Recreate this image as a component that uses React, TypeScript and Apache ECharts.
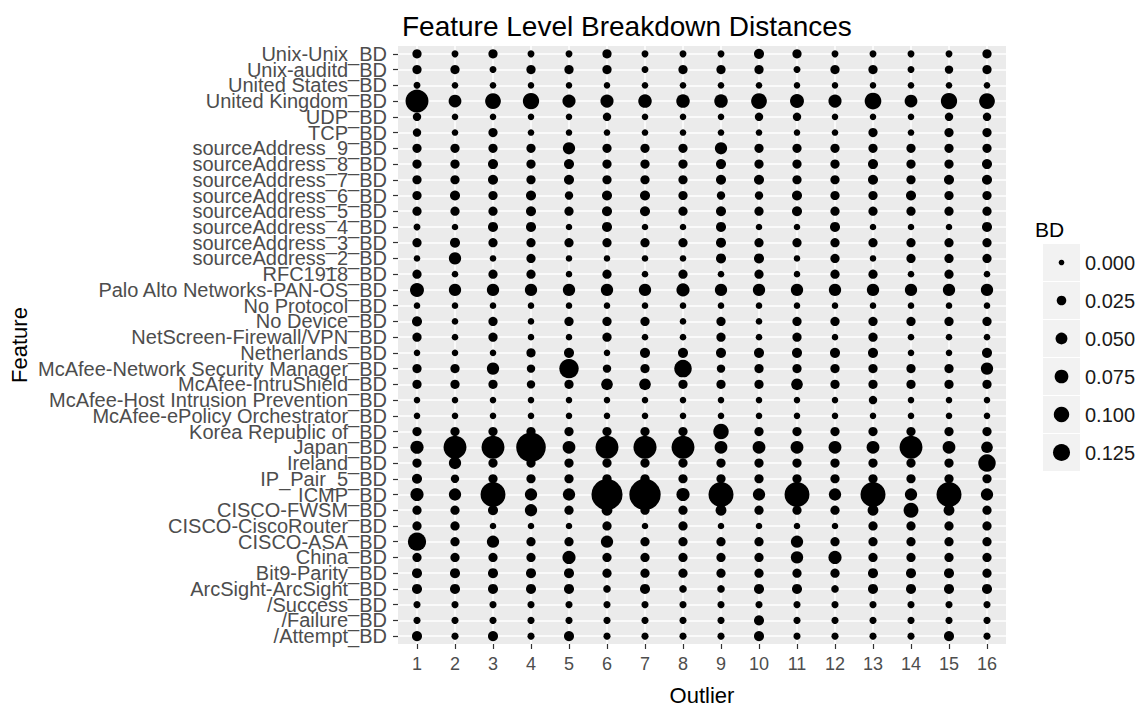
import { useEffect, useRef } from 'react';
import * as echarts from 'echarts';

const FONT = '"Liberation Sans", Arial, sans-serif';

// Outlier ids along the x axis
const outliers = ['1', '2', '3', '4', '5', '6', '7', '8', '9', '10', '11', '12', '13', '14', '15', '16'];

// Features from top to bottom
const features = [
  'Unix-Unix_BD', 'Unix-auditd_BD', 'United States_BD', 'United Kingdom_BD', 'UDP_BD', 'TCP_BD',
  'sourceAddress_9_BD', 'sourceAddress_8_BD', 'sourceAddress_7_BD', 'sourceAddress_6_BD',
  'sourceAddress_5_BD', 'sourceAddress_4_BD', 'sourceAddress_3_BD', 'sourceAddress_2_BD',
  'RFC1918_BD', 'Palo Alto Networks-PAN-OS_BD', 'No Protocol_BD', 'No Device_BD',
  'NetScreen-Firewall/VPN_BD', 'Netherlands_BD', 'McAfee-Network Security Manager_BD',
  'McAfee-IntruShield_BD', 'McAfee-Host Intrusion Prevention_BD', 'McAfee-ePolicy Orchestrator_BD',
  'Korea Republic of_BD', 'Japan_BD', 'Ireland_BD', 'IP_Pair_5_BD', 'ICMP_BD', 'CISCO-FWSM_BD',
  'CISCO-CiscoRouter_BD', 'CISCO-ASA_BD', 'China_BD', 'Bit9-Parity_BD', 'ArcSight-ArcSight_BD',
  '/Success_BD', '/Failure_BD', '/Attempt_BD',
];

// Breakdown distance (BD) per feature, one value per outlier 1..16
const unixUnix = [0.022, 0.005, 0.022, 0.005, 0.005, 0.022, 0.005, 0.005, 0.005, 0.030, 0.022, 0.005, 0.005, 0.005, 0.005, 0.022];
const unixAuditd = [0.022, 0.022, 0.005, 0.022, 0.022, 0.022, 0.005, 0.022, 0.022, 0.022, 0.005, 0.022, 0.022, 0.005, 0.015, 0.022];
const unitedStates = [0.005, 0.003, 0.003, 0.003, 0.003, 0.003, 0.003, 0.003, 0.003, 0.003, 0.003, 0.003, 0.003, 0.003, 0.003, 0.003];
const unitedKingdom = [0.236, 0.062, 0.105, 0.114, 0.067, 0.067, 0.072, 0.072, 0.072, 0.105, 0.078, 0.067, 0.120, 0.062, 0.114, 0.105];
const udp = [0.015, 0.003, 0.003, 0.003, 0.003, 0.015, 0.003, 0.003, 0.003, 0.015, 0.015, 0.003, 0.003, 0.003, 0.015, 0.015];
const tcp = [0.015, 0.003, 0.022, 0.003, 0.003, 0.003, 0.003, 0.003, 0.003, 0.003, 0.003, 0.003, 0.022, 0.003, 0.022, 0.022];
const sourceAddress9 = [0.022, 0.022, 0.022, 0.022, 0.056, 0.022, 0.022, 0.022, 0.056, 0.022, 0.022, 0.022, 0.022, 0.022, 0.022, 0.022];
const sourceAddress8 = [0.022, 0.022, 0.030, 0.022, 0.030, 0.022, 0.022, 0.022, 0.030, 0.022, 0.022, 0.022, 0.030, 0.022, 0.022, 0.030];
const sourceAddress7 = [0.022, 0.022, 0.030, 0.022, 0.030, 0.022, 0.022, 0.022, 0.030, 0.030, 0.022, 0.022, 0.030, 0.022, 0.030, 0.030];
const sourceAddress6 = [0.022, 0.030, 0.022, 0.030, 0.015, 0.030, 0.030, 0.022, 0.015, 0.015, 0.030, 0.022, 0.022, 0.030, 0.022, 0.022];
const sourceAddress5 = [0.022, 0.022, 0.022, 0.030, 0.022, 0.030, 0.030, 0.022, 0.030, 0.022, 0.030, 0.022, 0.022, 0.022, 0.022, 0.022];
const sourceAddress4 = [0.005, 0.003, 0.030, 0.030, 0.003, 0.030, 0.003, 0.003, 0.030, 0.003, 0.003, 0.030, 0.003, 0.003, 0.003, 0.030];
const sourceAddress3 = [0.022, 0.030, 0.022, 0.022, 0.022, 0.022, 0.022, 0.022, 0.030, 0.022, 0.022, 0.022, 0.022, 0.022, 0.022, 0.022];
const sourceAddress2 = [0.003, 0.056, 0.003, 0.022, 0.003, 0.003, 0.003, 0.003, 0.030, 0.030, 0.003, 0.022, 0.003, 0.022, 0.022, 0.022];
const rfc1918 = [0.022, 0.003, 0.022, 0.022, 0.003, 0.022, 0.003, 0.022, 0.003, 0.022, 0.003, 0.022, 0.022, 0.003, 0.022, 0.003];
const paloAlto = [0.078, 0.056, 0.056, 0.056, 0.056, 0.056, 0.056, 0.067, 0.056, 0.056, 0.056, 0.056, 0.056, 0.056, 0.056, 0.056];
const noProtocol = [0.003, 0.003, 0.003, 0.003, 0.003, 0.003, 0.003, 0.003, 0.003, 0.003, 0.003, 0.003, 0.003, 0.003, 0.003, 0.003];
const noDevice = [0.030, 0.003, 0.022, 0.003, 0.022, 0.022, 0.022, 0.003, 0.022, 0.003, 0.022, 0.022, 0.022, 0.022, 0.022, 0.022];
const netScreen = [0.022, 0.003, 0.022, 0.003, 0.003, 0.022, 0.003, 0.003, 0.022, 0.003, 0.022, 0.003, 0.022, 0.003, 0.003, 0.003];
const netherlands = [0.003, 0.003, 0.003, 0.022, 0.030, 0.003, 0.030, 0.030, 0.030, 0.030, 0.030, 0.030, 0.030, 0.003, 0.003, 0.030];
const mcafeeNsm = [0.022, 0.022, 0.056, 0.015, 0.167, 0.015, 0.022, 0.133, 0.015, 0.022, 0.022, 0.022, 0.022, 0.022, 0.022, 0.056];
const mcafeeIntruShield = [0.022, 0.022, 0.022, 0.015, 0.022, 0.047, 0.047, 0.022, 0.022, 0.022, 0.047, 0.022, 0.022, 0.022, 0.022, 0.022];
const mcafeeHip = [0.003, 0.003, 0.003, 0.003, 0.003, 0.003, 0.003, 0.003, 0.003, 0.003, 0.003, 0.003, 0.015, 0.003, 0.003, 0.003];
const mcafeeEpo = [0.003, 0.003, 0.003, 0.003, 0.003, 0.003, 0.003, 0.003, 0.003, 0.003, 0.003, 0.003, 0.003, 0.003, 0.003, 0.003];
const korea = [0.022, 0.022, 0.022, 0.022, 0.022, 0.022, 0.022, 0.022, 0.100, 0.022, 0.022, 0.022, 0.022, 0.022, 0.022, 0.022];
const japan = [0.067, 0.236, 0.236, 0.386, 0.062, 0.236, 0.240, 0.236, 0.062, 0.062, 0.062, 0.062, 0.062, 0.236, 0.062, 0.047];
const ireland = [0.022, 0.056, 0.022, 0.022, 0.022, 0.022, 0.022, 0.022, 0.022, 0.022, 0.022, 0.022, 0.022, 0.022, 0.022, 0.133];
const ipPair5 = [0.030, 0.015, 0.022, 0.022, 0.022, 0.022, 0.022, 0.022, 0.022, 0.022, 0.022, 0.022, 0.022, 0.022, 0.022, 0.022];
const icmp = [0.067, 0.056, 0.278, 0.056, 0.056, 0.423, 0.430, 0.067, 0.280, 0.056, 0.278, 0.056, 0.280, 0.056, 0.280, 0.056];
const ciscoFwsm = [0.022, 0.022, 0.030, 0.056, 0.022, 0.038, 0.022, 0.022, 0.038, 0.022, 0.022, 0.022, 0.038, 0.090, 0.038, 0.022];
const ciscoRouter = [0.022, 0.022, 0.003, 0.003, 0.003, 0.022, 0.003, 0.022, 0.003, 0.003, 0.003, 0.003, 0.022, 0.022, 0.022, 0.022];
const ciscoAsa = [0.146, 0.022, 0.056, 0.022, 0.022, 0.056, 0.022, 0.022, 0.022, 0.022, 0.056, 0.022, 0.022, 0.022, 0.022, 0.022];
const china = [0.022, 0.022, 0.022, 0.022, 0.067, 0.022, 0.022, 0.022, 0.022, 0.022, 0.056, 0.067, 0.022, 0.022, 0.022, 0.022];
const bit9 = [0.030, 0.030, 0.030, 0.030, 0.030, 0.022, 0.022, 0.022, 0.022, 0.022, 0.022, 0.022, 0.030, 0.030, 0.030, 0.022];
const arcSight = [0.030, 0.030, 0.030, 0.030, 0.030, 0.009, 0.030, 0.009, 0.009, 0.030, 0.030, 0.009, 0.030, 0.030, 0.030, 0.030];
const success = [0.006, 0.006, 0.006, 0.006, 0.006, 0.006, 0.006, 0.006, 0.006, 0.006, 0.006, 0.006, 0.006, 0.006, 0.006, 0.006];
const failure = [0.006, 0.006, 0.006, 0.006, 0.006, 0.006, 0.006, 0.006, 0.006, 0.030, 0.006, 0.006, 0.006, 0.006, 0.006, 0.006];
const attempt = [0.030, 0.006, 0.030, 0.006, 0.030, 0.006, 0.006, 0.006, 0.006, 0.030, 0.006, 0.006, 0.006, 0.006, 0.030, 0.006];

// Rows in the same order as `features`
const rows = [
  unixUnix, unixAuditd, unitedStates, unitedKingdom, udp, tcp,
  sourceAddress9, sourceAddress8, sourceAddress7, sourceAddress6, sourceAddress5,
  sourceAddress4, sourceAddress3, sourceAddress2, rfc1918, paloAlto, noProtocol, noDevice,
  netScreen, netherlands, mcafeeNsm, mcafeeIntruShield, mcafeeHip, mcafeeEpo, korea, japan,
  ireland, ipPair5, icmp, ciscoFwsm, ciscoRouter, ciscoAsa, china, bit9, arcSight,
  success, failure, attempt,
];

// Size legend breaks
const legendBreaks = [0, 0.025, 0.05, 0.075, 0.1, 0.125];

// BD value -> point diameter in px
const sizeOf = (v: number) => 5.6 + 45 * Math.pow(Math.max(v, 0), 0.66);

const GRID = { left: 398, top: 46, width: 608, height: 598 };

function buildOption() {
  const data: [string, string, number][] = [];
  features.forEach((f, i) => {
    rows[i].forEach((v, j) => data.push([outliers[j], f, v]));
  });

  const legendX = 1043;
  const legendTop = 244;
  const keyStep = 38;
  const legendGraphics: any[] = [
    {
      type: 'text',
      x: 1035,
      y: 229,
      style: { text: 'BD', fill: '#000', fontSize: 21, fontFamily: FONT, align: 'left', verticalAlign: 'middle' },
    },
  ];
  legendBreaks.forEach((b, i) => {
    const top = legendTop + i * keyStep;
    legendGraphics.push({
      type: 'rect',
      shape: { x: legendX, y: top, width: keyStep - 1, height: keyStep - 1 },
      style: { fill: '#F2F2F2' },
    });
    legendGraphics.push({
      type: 'circle',
      shape: { cx: legendX + (keyStep - 1) / 2, cy: top + (keyStep - 1) / 2, r: sizeOf(b) / 2 },
      style: { fill: '#000' },
    });
    legendGraphics.push({
      type: 'text',
      x: legendX + keyStep + 4,
      y: top + (keyStep - 1) / 2,
      style: { text: b.toFixed(3), fill: '#1A1A1A', fontSize: 20, fontFamily: FONT, align: 'left', verticalAlign: 'middle' },
    });
  });

  return {
    animation: false,
    backgroundColor: '#FFFFFF',
    title: {
      text: 'Feature Level Breakdown Distances',
      left: 397,
      top: 7,
      textStyle: { fontSize: 28, fontWeight: 'normal', color: '#000', fontFamily: FONT },
    },
    grid: {
      ...GRID,
      show: true,
      backgroundColor: '#EBEBEB',
      borderWidth: 0,
      containLabel: false,
    },
    xAxis: {
      type: 'category',
      data: outliers,
      axisLine: { show: false },
      axisTick: { show: true, alignWithLabel: true, length: 5, lineStyle: { color: '#333333', width: 1.2 } },
      axisLabel: { color: '#4D4D4D', fontSize: 18, fontFamily: FONT, margin: 11, interval: 0 },
      splitLine: { show: false },
    },
    yAxis: {
      type: 'category',
      data: features,
      inverse: true,
      axisLine: { show: false },
      axisTick: { show: true, alignWithLabel: true, length: 5, lineStyle: { color: '#333333', width: 1.2 } },
      axisLabel: { color: '#4D4D4D', fontSize: 20, fontFamily: FONT, margin: 11, interval: 0 },
      splitLine: { show: false },
    },
    graphic: [
      {
        type: 'text',
        x: GRID.left + GRID.width / 2,
        y: 695,
        style: { text: 'Outlier', fill: '#000', fontSize: 22, fontFamily: FONT, align: 'center', verticalAlign: 'middle' },
      },
      {
        type: 'text',
        x: 19,
        y: GRID.top + GRID.height / 2,
        rotation: Math.PI / 2,
        style: { text: 'Feature', fill: '#000', fontSize: 22, fontFamily: FONT, align: 'center', verticalAlign: 'middle' },
      },
      ...legendGraphics,
    ],
    series: [
      {
        type: 'scatter',
        z: 2,
        data,
        symbol: 'circle',
        symbolSize: (val: any) => sizeOf(val[2]),
        itemStyle: { color: '#000000', opacity: 1 },
        emphasis: { disabled: true },
        markLine: {
          z: 1,
          silent: true,
          symbol: ['none', 'none'],
          label: { show: false },
          lineStyle: { color: '#FFFFFF', width: 1.5, type: 'solid' },
          emphasis: { disabled: true },
          data: [
            ...outliers.map((o) => ({ xAxis: o })),
            ...features.map((f) => ({ yAxis: f })),
          ],
        },
      },
    ],
  };
}

export default function App() {
  const ref = useRef<HTMLDivElement>(null);
  useEffect(() => {
    if (!ref.current) return;
    const chart = echarts.init(ref.current, null, { renderer: 'svg' });
    chart.setOption(buildOption() as any);
    return () => chart.dispose();
  }, []);
  return (
    <div
      ref={ref}
      style={{ position: 'fixed', left: 0, top: 0, width: 1145, height: 709, background: '#fff' }}
    />
  );
}
